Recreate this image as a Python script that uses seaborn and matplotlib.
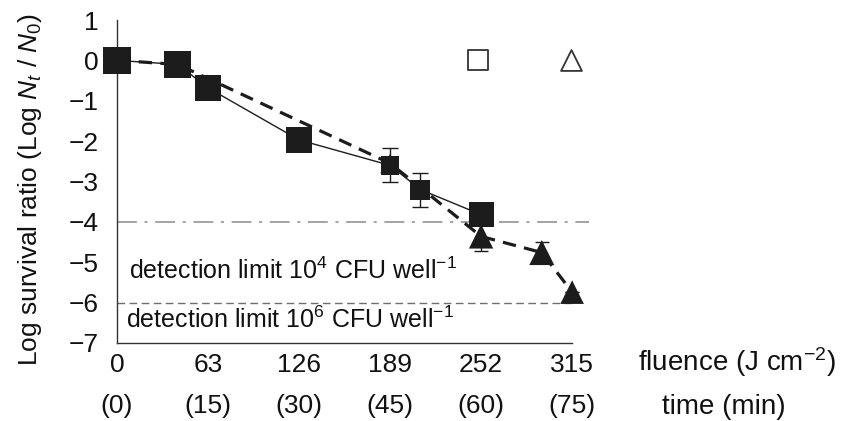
import matplotlib
matplotlib.use("Agg")
import matplotlib.pyplot as plt
import seaborn as sns
import numpy as np

# ---- data ----
fluence_ticks = [0, 63, 126, 189, 252, 315]
time_labels = ["(0)", "(15)", "(30)", "(45)", "(60)", "(75)"]

sq_fluence = [0, 42, 63, 126, 189, 210, 252]
sq_ratio = [0.0, -0.1, -0.68, -1.97, -2.6, -3.2, -3.82]
sq_err = [0, 0, 0, 0, 0.42, 0.42, 0]

tri_fluence = [0, 42, 189, 210, 252, 294, 315]
tri_ratio = [0.0, -0.1, -2.55, -3.15, -4.36, -4.76, -5.74]
tri_err = [0, 0, 0, 0, 0.36, 0.26, 0]

detection_limits = [-4, -6]
detection_texts = ["detection limit 10$^{4}$ CFU well$^{-1}$",
                   "detection limit 10$^{6}$ CFU well$^{-1}$"]

key_x = [250, 314]
key_y = [0, 0]

# ---- style ----
sns.set_theme(style="white")
plt.rcParams["font.family"] = ["Liberation Sans", "DejaVu Sans"]
plt.rcParams["mathtext.fontset"] = "custom"
plt.rcParams["mathtext.rm"] = "Liberation Sans"
plt.rcParams["mathtext.it"] = "Liberation Sans:italic"
plt.rcParams["axes.unicode_minus"] = True

fig = plt.figure(figsize=(8.54, 4.21), dpi=100)
ax = fig.add_axes([117 / 854, 78 / 421, 483 / 854, 323 / 421])
ax.set_xlim(0, 334.3)
ax.set_ylim(-7, 1)

dark = "#1c1c1c"
txt = "#111111"

# detection limit lines
ax.hlines(detection_limits[0], 0, 327, colors="#8c8c8c", linewidth=1.1,
          linestyles=(0, (13, 5, 2, 5)), zorder=1)
ax.hlines(detection_limits[1], 0, 315, colors="#6e6e6e", linewidth=1.0,
          linestyles=(0, (5.5, 3.2)), zorder=1)

# triangle series (dashed)
sns.lineplot(x=tri_fluence, y=tri_ratio, ax=ax, color=dark, linewidth=2.3,
             sort=False, estimator=None, zorder=2)
ax.lines[-1].set_dashes((4.2, 2.6))
ax.errorbar(tri_fluence, tri_ratio, yerr=tri_err, fmt="none", ecolor=dark,
            elinewidth=1.0, capsize=5, capthick=1.0, zorder=2)
tri_sizes = [0, 0, 14, 13, 17.5, 18, 17]
ax.scatter(tri_fluence, tri_ratio, marker="^", s=np.square(tri_sizes),
           color=dark, linewidths=0, zorder=3, clip_on=False)

# square series (solid)
sns.lineplot(x=sq_fluence, y=sq_ratio, ax=ax, color=dark, linewidth=1.0,
             sort=False, estimator=None, zorder=4)
ax.errorbar(sq_fluence, sq_ratio, yerr=sq_err, fmt="none", ecolor=dark,
            elinewidth=1.0, capsize=5.5, capthick=1.0, zorder=4)
sq_sizes = [19.5, 19, 18.5, 18.5, 13.5, 14.5, 18]
ax.scatter(sq_fluence, sq_ratio, marker="s", s=np.square(sq_sizes),
           color=dark, linewidths=0, zorder=5, clip_on=False)

# open key markers at top
ax.scatter(key_x[:1], key_y[:1], marker="s", s=14 ** 2, facecolor="white",
           edgecolor="#333333", linewidths=1.3, zorder=5, clip_on=False)
ax.scatter(key_x[1:], key_y[1:], marker="^", s=15 ** 2, facecolor="white",
           edgecolor="#333333", linewidths=1.3, zorder=5, clip_on=False)

# detection text
ax.text(8.5, -5.2, detection_texts[0], fontsize=18, va="center", ha="left",
        color=txt)
ax.text(6.5, -6.42, detection_texts[1], fontsize=18, va="center", ha="left",
        color=txt)

# axes styling
for s in ["top", "right"]:
    ax.spines[s].set_visible(False)
ax.spines["bottom"].set_bounds(0, 315)
for s in ["left", "bottom"]:
    ax.spines[s].set_color("#333333")
    ax.spines[s].set_linewidth(1.0)

ax.set_xticks(fluence_ticks)
ax.set_xticklabels([str(v) for v in fluence_ticks])
ax.set_yticks(np.arange(-7, 2, 1))
ax.tick_params(axis="both", direction="in", length=5, width=1.0,
               color="#333333", labelsize=19, labelcolor=txt)
ax.tick_params(axis="x", pad=7)
ax.tick_params(axis="y", pad=13)

# time row
for fx, tl in zip(fluence_ticks, time_labels):
    ax.text(fx, -0.195, tl, transform=ax.get_xaxis_transform(), fontsize=19,
            ha="center", va="center", color=txt)

fig.text(737 / 854, 1 - 362 / 421, "fluence (J cm$^{-2}$)", fontsize=20,
         ha="center", va="center", color=txt)
fig.text(724 / 854, 1 - 407 / 421, "time (min)", fontsize=20,
         ha="center", va="center", color=txt)
fig.text(30 / 854, 1 - 190 / 421, "Log survival ratio (Log $N_t$ / $N_0$)",
         fontsize=19, rotation=90, ha="center", va="center", color=txt)

fig.savefig("out.png", dpi=100)
